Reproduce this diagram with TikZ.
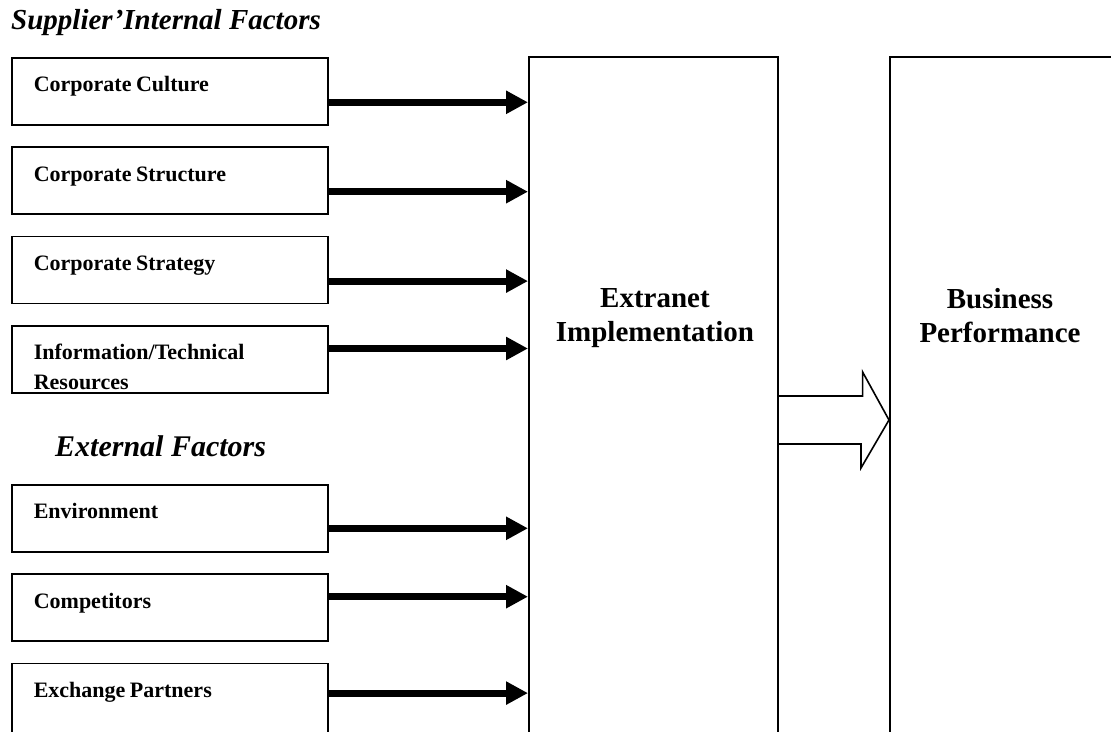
\documentclass[tikz,border=0pt]{standalone}
\usepackage{fontspec}
\setmainfont{Liberation Serif}
\usetikzlibrary{positioning}
\usetikzlibrary{arrows.meta}
\tikzstyle{factor}=[draw, line width=1.6pt, anchor=north west, inner xsep=22pt, inner ysep=0pt,
  text width=272pt, align=left, text height=34pt, text depth=33pt,
  font=\fontsize{22}{30}\selectfont\bfseries, execute at begin node={\spaceskip=4.5pt\relax}]
\tikzstyle{column}=[draw, line width=1.6pt, anchor=north west, inner sep=0pt, minimum height=700pt]
\tikzstyle{heading}=[anchor=north, align=center, inner sep=0pt, font=\fontsize{29}{34}\selectfont\bfseries]
\tikzstyle{group}=[anchor=base west, inner sep=0pt, font=\fontsize{30}{34}\selectfont\bfseries\itshape]
\tikzstyle{push}=[line width=7pt, -{Triangle[length=22pt, width=22pt]}]
\tikzstyle{outcome}=[line width=1.6pt, line join=miter]

\begin{document}
\begin{tikzpicture}[x=1pt, y=1pt, node distance=20.8pt]
          \useasboundingbox (0, 0) rectangle (1111, 731);
          \clip (0, 0) rectangle (1111, 731);
          \node[group, font=\fontsize{29}{34}\selectfont\bfseries\itshape] (internal) at (11, 701) {Supplier’Internal Factors};
          \node[factor] (culture) at (11, 674) {Corporate Culture};
          \node[factor, below=of culture] (structure) {Corporate Structure};
          \node[factor, below=of structure] (strategy) {Corporate Strategy};
          \node[factor, below=of strategy] (resources) {Information/Technical\\Resources};
          \node[group] (external) at (55, 274) {External Factors};
          \node[factor] (environment) at (11, 247) {Environment};
          \node[factor, below=of environment] (competitors) {Competitors};
          \node[factor, below=of competitors, text depth=45pt] (partners) {Exchange Partners};
          \node[column, minimum width=249pt] (extranet) at (528, 675) {};
          \node[column, minimum width=300pt] (performance) at (889, 675) {};
          \node[heading] (extranettext) at (655, 443) {Extranet\\Implementation};
          \node[heading] (performancetext) at (1000, 443) {Business\\Performance};
          \foreach \source/\shift in {culture/-11, structure/-11, strategy/-11, resources/11,
                                      environment/-10, competitors/11, partners/10}
            \draw[push] ([yshift=\shift pt]\source.east) -- ([yshift=\shift pt]\source.east -| extranet.west);
          \coordinate (middle) at (0, 311);
          \draw[outcome]
            (extranet.east |- middle) ++(0, 24)
            -- ++(84, 0)
            -- ++(0, 24)
            -- (performance.west |- middle)
            -- ++(-28, -48)
            -- ++(0, 24)
            -- ++(-84, 0);
        \end{tikzpicture}
\end{document}
